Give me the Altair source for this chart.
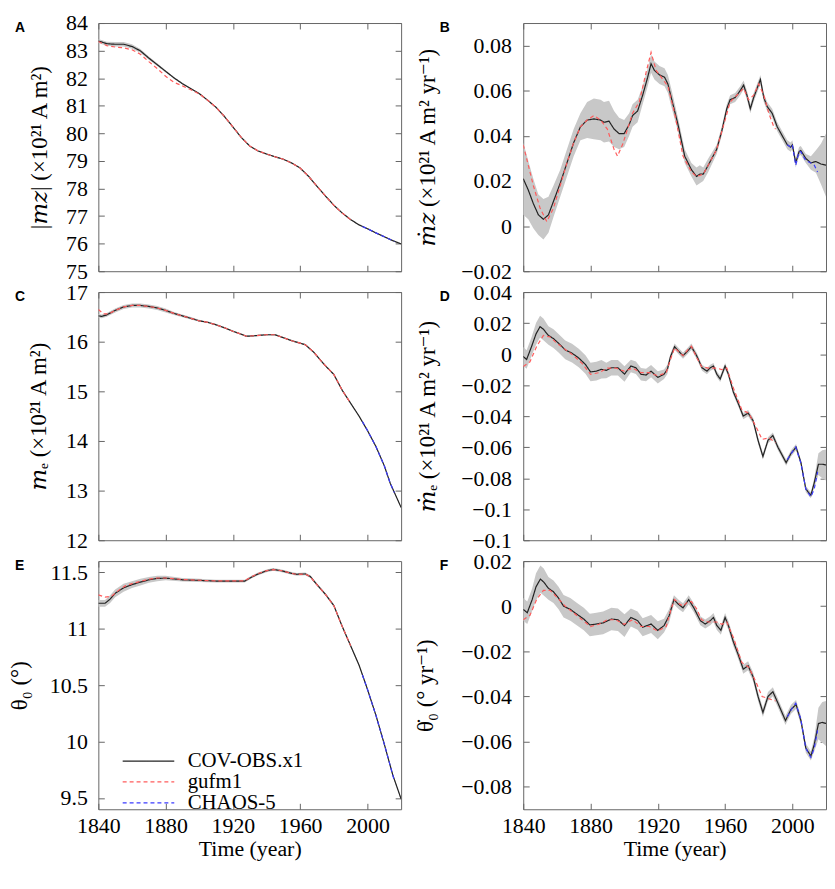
import altair as alt
import pandas as pd

FONT = "Liberation Serif, DejaVu Serif, serif"
LETTER_FONT = "Liberation Sans, Arial, sans-serif"
W, H = 305, 250
FRAME = "#666666"
BAND = "#c8c8c8"

SERIES = ["COV-OBS.x1", "gufm1", "CHAOS-5"]
SERIES_COLORS = ["#222222", "#ff5c5c", "#3b3bff"]
SERIES_DASH = [[1, 0], [4, 3], [4, 3]]
X_DOMAIN = [1840, 2020]
X_TICKS = [1840, 1880, 1920, 1960, 2000]

# ---------------- Panel A : |m_z|
A_YEARS = [1840, 1845, 1850, 1855, 1860, 1865, 1870, 1875, 1880, 1885, 1890, 1895,
           1900, 1905, 1910, 1915, 1920, 1925, 1930, 1935, 1940, 1945, 1950, 1955,
           1960, 1965, 1970, 1975, 1980, 1985, 1990, 1995, 2000, 2005, 2010, 2015, 2020]
A_BLACK = [83.35, 83.25, 83.23, 83.23, 83.15, 82.99, 82.73, 82.49, 82.25, 82.01, 81.80, 81.62,
           81.44, 81.20, 80.94, 80.61, 80.23, 79.85, 79.54, 79.36, 79.25, 79.15, 79.06, 78.92,
           78.74, 78.44, 78.08, 77.73, 77.39, 77.11, 76.87, 76.68, 76.54, 76.39, 76.25, 76.11, 75.99]
A_SPREAD = [0.07, 0.07, 0.08, 0.08, 0.08, 0.07, 0.06, 0.05, 0.04, 0.03, 0.03, 0.02,
            0.02, 0.02, 0.02, 0.02, 0.02, 0.02, 0.02, 0.02, 0.02, 0.02, 0.02, 0.02,
            0.02, 0.02, 0.02, 0.02, 0.02, 0.02, 0.02, 0.02, 0.02, 0.02, 0.02, 0.02, 0.02]
A_RED_YEARS = [1840, 1845, 1850, 1855, 1860, 1865, 1870, 1875, 1880, 1885, 1890, 1895,
               1900, 1905, 1910, 1915, 1920, 1925, 1930, 1935, 1940, 1945, 1950, 1955,
               1960, 1965, 1970, 1975, 1980, 1985, 1990]
A_RED = [83.33, 83.18, 83.13, 83.10, 83.03, 82.87, 82.60, 82.35, 82.07, 81.85, 81.72, 81.58,
         81.43, 81.20, 80.94, 80.61, 80.23, 79.85, 79.54, 79.36, 79.25, 79.15, 79.06, 78.92,
         78.74, 78.44, 78.08, 77.73, 77.39, 77.11, 76.87]
A_BLUE_YEARS = [1997, 2000, 2005, 2010, 2015, 2016]
A_BLUE = [76.62, 76.54, 76.39, 76.25, 76.11, 76.08]

# ---------------- Panel B : dm_z/dt
B_YEARS = [1840, 1843, 1846, 1849, 1852, 1855, 1858, 1862, 1866, 1870,
           1874, 1878, 1882, 1886, 1888, 1891, 1894, 1897, 1900, 1903,
           1905, 1908, 1911, 1914, 1916, 1918, 1921, 1924, 1926, 1928,
           1932, 1936, 1940, 1943, 1945, 1947, 1950, 1955, 1958, 1961,
           1963, 1966, 1969, 1971, 1973, 1975, 1977, 1979, 1981, 1983,
           1985, 1988, 1991, 1994, 1997, 1999, 2000, 2002, 2004, 2005,
           2008, 2011, 2014, 2017, 2020]
B_BLACK = [0.021, 0.016, 0.010, 0.005, 0.003, 0.005, 0.011, 0.019, 0.028, 0.037,
           0.044, 0.047, 0.0475, 0.047, 0.046, 0.0465, 0.043, 0.041, 0.041, 0.045,
           0.049, 0.051, 0.058, 0.066, 0.072, 0.069, 0.067, 0.066, 0.063, 0.057,
           0.045, 0.031, 0.025, 0.022, 0.023, 0.023, 0.027, 0.034, 0.042, 0.052,
           0.056, 0.057, 0.060, 0.0625, 0.058, 0.052, 0.057, 0.061, 0.065, 0.057,
           0.053, 0.050, 0.044, 0.040, 0.036, 0.035, 0.036, 0.028, 0.033, 0.0335,
           0.030, 0.028, 0.0286, 0.0275, 0.027]
B_SPREAD = [0.016, 0.013, 0.011, 0.009, 0.009, 0.008, 0.007, 0.006, 0.006, 0.006,
            0.006, 0.008, 0.009, 0.009, 0.009, 0.009, 0.008, 0.007, 0.006, 0.005,
            0.005, 0.005, 0.004, 0.004, 0.004, 0.004, 0.004, 0.004, 0.004, 0.004,
            0.003, 0.003, 0.003, 0.004, 0.004, 0.003, 0.003, 0.002, 0.002, 0.002,
            0.002, 0.002, 0.002, 0.002, 0.002, 0.002, 0.002, 0.002, 0.002, 0.002,
            0.002, 0.002, 0.002, 0.002, 0.002, 0.002, 0.002, 0.002, 0.002, 0.002,
            0.002, 0.003, 0.005, 0.009, 0.014]
B_RED_YEARS = [1840, 1843, 1846, 1850, 1854, 1858, 1862, 1866, 1870, 1874,
               1878, 1882, 1886, 1890, 1894, 1896, 1899, 1902, 1905, 1909,
               1913, 1916, 1919, 1922, 1926, 1930, 1935, 1940, 1943, 1947,
               1950, 1955, 1960, 1963, 1967, 1971, 1974, 1977, 1980, 1983,
               1986, 1989, 1990]
B_RED = [0.036, 0.027, 0.018, 0.008, 0.002, 0.008, 0.018, 0.028, 0.037, 0.044,
         0.047, 0.049, 0.047, 0.043, 0.034, 0.031, 0.036, 0.043, 0.050, 0.055,
         0.068, 0.077, 0.069, 0.066, 0.062, 0.050, 0.031, 0.024, 0.022, 0.023,
         0.027, 0.034, 0.047, 0.055, 0.058, 0.061, 0.056, 0.058, 0.063, 0.058,
         0.050, 0.044, 0.043]
B_BLUE_YEARS = [1997, 1999, 2000, 2002, 2004, 2005, 2008, 2011, 2013, 2015]
B_BLUE = [0.036, 0.035, 0.036, 0.027, 0.033, 0.033, 0.029, 0.028, 0.027, 0.024]

# ---------------- Panel C : m_e
C_YEARS = [1840, 1842, 1845, 1850, 1855, 1860, 1865, 1870, 1875, 1880,
           1885, 1890, 1895, 1900, 1905, 1910, 1915, 1920, 1925, 1928,
           1933, 1940, 1945, 1950, 1955, 1960, 1963, 1968, 1974, 1980,
           1985, 1990, 1995, 2000, 2005, 2010, 2013.5, 2020]
C_BLACK = [16.52, 16.51, 16.54, 16.63, 16.70, 16.73, 16.73, 16.71, 16.68, 16.63,
           16.57, 16.52, 16.47, 16.42, 16.39, 16.34, 16.28, 16.21, 16.15, 16.11,
           16.12, 16.14, 16.14, 16.08, 16.02, 15.97, 15.94, 15.79, 15.55, 15.34,
           15.02, 14.76, 14.50, 14.21, 13.89, 13.50, 13.15, 12.66]
C_SPREAD = [0.04, 0.04, 0.04, 0.04, 0.04, 0.04, 0.04, 0.04, 0.04, 0.04,
            0.03, 0.03, 0.025, 0.02, 0.015, 0.015, 0.015, 0.015, 0.015, 0.015,
            0.015, 0.015, 0.015, 0.015, 0.015, 0.015, 0.015, 0.015, 0.015, 0.015,
            0.015, 0.015, 0.015, 0.015, 0.015, 0.015, 0.015, 0.015]
C_RED_YEARS = [1840, 1843, 1846, 1850, 1855, 1860, 1865, 1870, 1875, 1880,
               1885, 1890, 1895, 1900, 1905, 1910, 1915, 1920, 1925, 1928,
               1933, 1940, 1945, 1950, 1955, 1960, 1963, 1968, 1974, 1980,
               1985, 1990]
C_RED = [16.65, 16.56, 16.56, 16.63, 16.70, 16.73, 16.73, 16.71, 16.68, 16.63,
         16.57, 16.52, 16.47, 16.42, 16.39, 16.34, 16.28, 16.21, 16.15, 16.11,
         16.12, 16.14, 16.14, 16.08, 16.02, 15.97, 15.94, 15.79, 15.55, 15.34,
         15.02, 14.76]
C_BLUE_YEARS = [1997, 2000, 2005, 2010, 2013.5, 2016]
C_BLUE = [14.39, 14.21, 13.89, 13.50, 13.15, 12.96]

# ---------------- Panel D : dm_e/dt
D_YEARS = [1840, 1842, 1845, 1847.6, 1850, 1852, 1855, 1858, 1861, 1865,
           1869, 1873, 1877, 1880, 1883.5, 1886.5, 1889.4, 1892.4, 1896.3, 1900.2,
           1904, 1907, 1910, 1913, 1916, 1920, 1923.7, 1925.7, 1927.6, 1930,
           1932.5, 1935, 1937.5, 1940, 1943.3, 1946.3, 1949.2, 1951.2, 1953.1, 1955.1,
           1957.1, 1960, 1962, 1964.9, 1967.8, 1970.8, 1973.7, 1976.7, 1979.6, 1982.5,
           1985.5, 1988.4, 1991.4, 1996.3, 1999.2, 2002.2, 2005.1, 2008, 2011, 2013,
           2015.5, 2017.8, 2020]
D_BLACK = [-0.0015, -0.0035, 0.005, 0.013, 0.0177, 0.016, 0.012, 0.010, 0.007, 0.0027,
           0.0006, -0.0025, -0.0067, -0.0115, -0.011, -0.0098, -0.0105, -0.0088, -0.0088, -0.0129,
           -0.0077, -0.0088, -0.013, -0.0135, -0.011, -0.015, -0.013, -0.0098, -0.0015, 0.0048,
           0.0017, -0.001, 0.0017, 0.0048, -0.0015, -0.0088, -0.011, -0.0088, -0.0077, -0.013,
           -0.016, -0.0077, -0.013, -0.0244, -0.0317, -0.040, -0.038, -0.043, -0.0556, -0.066,
           -0.0556, -0.0525, -0.060, -0.070, -0.064, -0.060, -0.070, -0.087, -0.091, -0.083,
           -0.071, -0.071, -0.0715]
D_SPREAD = [0.006, 0.006, 0.006, 0.007, 0.007, 0.007, 0.006, 0.006, 0.006, 0.006,
            0.006, 0.006, 0.006, 0.006, 0.006, 0.006, 0.005, 0.005, 0.005, 0.005,
            0.004, 0.004, 0.004, 0.004, 0.004, 0.004, 0.003, 0.003, 0.002, 0.002,
            0.002, 0.002, 0.002, 0.002, 0.002, 0.002, 0.002, 0.002, 0.002, 0.002,
            0.002, 0.002, 0.002, 0.002, 0.002, 0.002, 0.002, 0.002, 0.002, 0.002,
            0.002, 0.002, 0.002, 0.002, 0.002, 0.002, 0.002, 0.002, 0.002, 0.003,
            0.007, 0.009, 0.010]
D_RED_YEARS = [1840, 1844, 1848, 1852, 1856, 1860, 1865, 1870, 1875, 1880,
               1885, 1890, 1895, 1900, 1905, 1910, 1915, 1920, 1925, 1928,
               1930, 1933, 1935, 1938, 1940, 1943, 1946, 1950, 1955, 1958,
               1961, 1965, 1970, 1974, 1978, 1982, 1986, 1990]
D_RED = [-0.008, -0.005, 0.005, 0.012, 0.011, 0.007, 0.003, -0.001, -0.006, -0.013,
         -0.012, -0.009, -0.009, -0.011, -0.009, -0.012, -0.012, -0.014, -0.012, -0.002,
         0.004, 0.001, -0.001, 0.003, 0.005, -0.002, -0.008, -0.009, -0.009, -0.010,
         -0.009, -0.022, -0.036, -0.038, -0.046, -0.055, -0.054, -0.057]
D_BLUE_YEARS = [1997, 2000, 2002, 2005, 2008, 2011, 2013, 2015]
D_BLUE = [-0.068, -0.063, -0.060, -0.070, -0.087, -0.092, -0.087, -0.076]

# ---------------- Panel E : theta_0
E_YEARS = [1840, 1844, 1847, 1850, 1855, 1860, 1865, 1870, 1875, 1880,
           1890, 1900, 1910, 1920, 1927, 1931, 1935, 1940, 1944, 1949,
           1955, 1958, 1963, 1966, 1970, 1975, 1980, 1985, 1990, 1995,
           2000, 2005, 2010, 2015, 2020]
E_BLACK = [11.226, 11.226, 11.263, 11.314, 11.363, 11.391, 11.414, 11.434, 11.446, 11.449,
           11.434, 11.429, 11.423, 11.423, 11.423, 11.457, 11.486, 11.514, 11.526, 11.514,
           11.491, 11.483, 11.486, 11.463, 11.391, 11.306, 11.206, 11.02, 10.849, 10.677,
           10.463, 10.234, 9.977, 9.706, 9.491]
E_SPREAD = [0.03, 0.03, 0.035, 0.035, 0.035, 0.03, 0.03, 0.025, 0.025, 0.02,
            0.015, 0.015, 0.012, 0.012, 0.012, 0.012, 0.012, 0.012, 0.012, 0.012,
            0.012, 0.012, 0.012, 0.012, 0.012, 0.012, 0.012, 0.012, 0.012, 0.012,
            0.012, 0.012, 0.012, 0.012, 0.012]
E_RED_YEARS = [1840, 1844, 1848, 1852, 1856, 1860, 1865, 1870, 1875, 1880,
               1890, 1900, 1910, 1920, 1927, 1931, 1935, 1940, 1944, 1949,
               1955, 1958, 1963, 1966, 1970, 1975, 1980, 1985, 1990]
E_RED = [11.30, 11.28, 11.29, 11.34, 11.38, 11.40, 11.42, 11.44, 11.45, 11.45,
         11.437, 11.43, 11.424, 11.424, 11.425, 11.46, 11.49, 11.515, 11.525, 11.515,
         11.49, 11.482, 11.485, 11.462, 11.39, 11.305, 11.205, 11.02, 10.849]
E_BLUE_YEARS = [1997, 2000, 2005, 2010, 2015, 2016]
E_BLUE = [10.59, 10.463, 10.234, 9.977, 9.706, 9.65]

# ---------------- Panel F : dtheta_0/dt
F_YEARS = [1840, 1842.4, 1845.3, 1847.6, 1850.2, 1852.2, 1855, 1858, 1861, 1864,
           1868, 1872, 1876, 1879.6, 1883.5, 1887.5, 1892.4, 1896.3, 1900.2, 1904,
           1908, 1911, 1916, 1920, 1923.7, 1926.7, 1929.6, 1932.5, 1935, 1938.4,
           1941.4, 1945.3, 1948.2, 1951.2, 1953.1, 1955.1, 1957.5, 1960, 1962, 1964.9,
           1967.8, 1970.8, 1973.7, 1976.7, 1979.6, 1982.5, 1985.5, 1988.4, 1991.4, 1995.9,
           1999.2, 2002.2, 2005.1, 2008, 2011, 2013, 2015.5, 2017.8, 2020]
F_BLACK = [-0.0014, -0.0029, 0.0029, 0.0086, 0.012, 0.0107, 0.0079, 0.0064, 0.0036, 0.0,
           -0.0014, -0.0036, -0.0057, -0.0083, -0.0079, -0.0074, -0.0057, -0.006, -0.0086, -0.005,
           -0.0064, -0.0093, -0.0079, -0.0107, -0.0086, -0.0043, 0.0029, 0.0007, -0.0007, 0.0029,
           -0.0007, -0.0064, -0.0079, -0.0064, -0.005, -0.0086, -0.0107, -0.005, -0.0086, -0.0157,
           -0.0214, -0.0279, -0.0264, -0.0314, -0.040, -0.0471, -0.040, -0.0379, -0.0429, -0.0507,
           -0.0457, -0.0436, -0.0507, -0.0629, -0.0664, -0.0614, -0.052, -0.0515, -0.052]
F_SPREAD = [0.005, 0.005, 0.005, 0.006, 0.006, 0.006, 0.005, 0.005, 0.005, 0.005,
            0.005, 0.005, 0.005, 0.005, 0.005, 0.005, 0.005, 0.005, 0.005, 0.004,
            0.004, 0.004, 0.004, 0.004, 0.003, 0.003, 0.002, 0.002, 0.002, 0.002,
            0.002, 0.002, 0.002, 0.002, 0.002, 0.002, 0.002, 0.002, 0.002, 0.002,
            0.002, 0.002, 0.002, 0.002, 0.002, 0.002, 0.002, 0.002, 0.002, 0.002,
            0.002, 0.002, 0.002, 0.002, 0.002, 0.003, 0.007, 0.009, 0.010]
F_RED_YEARS = D_RED_YEARS
F_RED = [-0.006, -0.004, 0.003, 0.007, 0.007, 0.004, 0.0, -0.003, -0.006, -0.009,
         -0.008, -0.006, -0.006, -0.008, -0.006, -0.009, -0.009, -0.011, -0.009, -0.001,
         0.003, 0.001, 0.0, 0.002, 0.002, -0.001, -0.006, -0.007, -0.007, -0.008,
         -0.007, -0.014, -0.025, -0.027, -0.033, -0.040, -0.041, -0.042]
F_BLUE_YEARS = [1997, 2000, 2002, 2005, 2008, 2011, 2013, 2015]
F_BLUE = [-0.049, -0.045, -0.043, -0.050, -0.063, -0.067, -0.063, -0.055]


def make_panel(letter, years, black, spread, red_years, red_vals, blue_years,
               blue_vals, y_domain, y_ticks, y_title, title_x, right_col, bottom_row,
               with_legend=False):
    band_df = pd.DataFrame(
        [{"year": y, "lo": b - s, "hi": b + s} for y, b, s in zip(years, black, spread)]
    )
    rows = []
    for name, yy, vv in [(SERIES[0], years, black),
                         (SERIES[1], red_years, red_vals),
                         (SERIES[2], blue_years, blue_vals)]:
        for y, v in zip(yy, vv):
            rows.append({"year": y, "value": v, "series": name})
    line_df = pd.DataFrame(rows)

    xs = alt.Scale(domain=X_DOMAIN, nice=False, zero=False)
    ysc = alt.Scale(domain=y_domain, nice=False, zero=False)

    lab_common = dict(labelFont=FONT, labelFontSize=22, labelColor="black", ticks=False,
                      tickSize=0, domain=False, grid=False, labelOverlap=False,
                      labelFlush=False, titleFont=FONT, titleFontWeight="normal",
                      titleColor="black")
    y_lab = alt.Axis(orient="left", values=y_ticks, format="~g",
                     labelPadding=12 if right_col else 11, title=y_title,
                     titleFontSize=23, titleX=title_x, titleY=H / 2, **lab_common)
    if bottom_row:
        x_enc = alt.X("year:Q", scale=xs,
                      axis=alt.Axis(orient="bottom", values=X_TICKS, format="d",
                                    labelPadding=6, title="Time (year)", titlePadding=3,
                                    titleFontSize=22, **lab_common))
    else:
        x_enc = alt.X("year:Q", scale=xs, axis=None)

    band = alt.Chart(band_df).mark_area(color=BAND, clip=True).encode(
        x=x_enc, y=alt.Y("lo:Q", scale=ysc, axis=y_lab), y2="hi:Q")

    # inward-pointing tick marks on all four sides (no labels, no extra extent)
    tick = dict(offset=-6, tickSize=6, tickColor=FRAME, tickWidth=1, labels=False,
                domain=False, grid=False, title=None, minExtent=0, maxExtent=0)

    if with_legend:
        leg = alt.Legend(orient="none", legendX=40, legendY=191, title=None,
                         symbolType="M-5,0H5", symbolSize=108, symbolStrokeWidth=1.3,
                         labelFont=FONT, labelFontSize=21, labelColor="black",
                         labelOffset=29, rowPadding=-2, padding=0)
    else:
        leg = None

    lines = alt.Chart(line_df).mark_line(strokeWidth=1.2, clip=True).encode(
        x=alt.X("year:Q", scale=xs, axis=alt.Axis(orient="bottom", values=X_TICKS, **tick)),
        y=alt.Y("value:Q", scale=ysc, axis=alt.Axis(orient="left", values=y_ticks, **tick)),
        color=alt.Color("series:N", scale=alt.Scale(domain=SERIES, range=SERIES_COLORS),
                        legend=leg),
        strokeDash=alt.StrokeDash("series:N", scale=alt.Scale(domain=SERIES, range=SERIES_DASH),
                                  legend=leg),
    )

    mirror = alt.Chart(band_df).mark_point(opacity=0, size=1).encode(
        x=alt.X("year:Q", scale=xs, axis=alt.Axis(orient="top", values=X_TICKS, **tick)),
        y=alt.Y("hi:Q", scale=ysc, axis=alt.Axis(orient="right", values=y_ticks, **tick)),
    )

    # panel letter (A-F), drawn as text to the upper-left of the plot area
    letter_mark = alt.Chart(pd.DataFrame({"label": [letter]})).mark_text(
        align="left", baseline="top", font=LETTER_FONT, fontSize=14, fontWeight="bold",
        color="black",
    ).encode(text="label:N", x=alt.value(-84), y=alt.value(-2))

    return alt.layer(band, lines, mirror, letter_mark).resolve_axis(
        x="independent", y="independent"
    ).properties(width=W, height=H)


pA = make_panel("A", A_YEARS, A_BLACK, A_SPREAD, A_RED_YEARS, A_RED, A_BLUE_YEARS, A_BLUE,
                [75, 84], [75, 76, 77, 78, 79, 80, 81, 82, 83, 84],
                "|𝑚𝑧| (×10²¹ A m²)", -47, False, False)
pB = make_panel("B", B_YEARS, B_BLACK, B_SPREAD, B_RED_YEARS, B_RED, B_BLUE_YEARS, B_BLUE,
                [-0.02, 0.09], [-0.02, 0, 0.02, 0.04, 0.06, 0.08],
                "𝑚̇𝑧 (×10²¹ A m² yr⁻¹)", -84, True, False)
pC = make_panel("C", C_YEARS, C_BLACK, C_SPREAD, C_RED_YEARS, C_RED, C_BLUE_YEARS, C_BLUE,
                [12, 17], [12, 13, 14, 15, 16, 17],
                "𝑚ₑ (×10²¹ A m²)", -48, False, False)
pD = make_panel("D", D_YEARS, D_BLACK, D_SPREAD, D_RED_YEARS, D_RED, D_BLUE_YEARS, D_BLUE,
                [-0.12, 0.04], [-0.12, -0.1, -0.08, -0.06, -0.04, -0.02, 0, 0.02, 0.04],
                "𝑚̇ₑ (×10²¹ A m² yr⁻¹)", -84, True, False)
pE = make_panel("E", E_YEARS, E_BLACK, E_SPREAD, E_RED_YEARS, E_RED, E_BLUE_YEARS, E_BLUE,
                [9.4, 11.6], [9.5, 10, 10.5, 11, 11.5],
                "θ₀ (°)", -67, False, True, with_legend=True)
pF = make_panel("F", F_YEARS, F_BLACK, F_SPREAD, F_RED_YEARS, F_RED, F_BLUE_YEARS, F_BLUE,
                [-0.09, 0.02], [-0.08, -0.06, -0.04, -0.02, 0, 0.02],
                "θ̇₀ (° yr⁻¹)", -86, True, True)

chart = alt.concat(
    pA, pB, pC, pD, pE, pF, columns=2,
    spacing={"row": 21, "column": 123}, bounds="flush",
).resolve_scale(
    color="independent", strokeDash="independent"
).configure_view(
    stroke=FRAME, strokeWidth=1
).properties(
    padding={"left": 0, "top": 0, "right": 0, "bottom": 0},
    background="white",
)

chart.save("out.html", embed_options={"renderer": "svg", "actions": False})
